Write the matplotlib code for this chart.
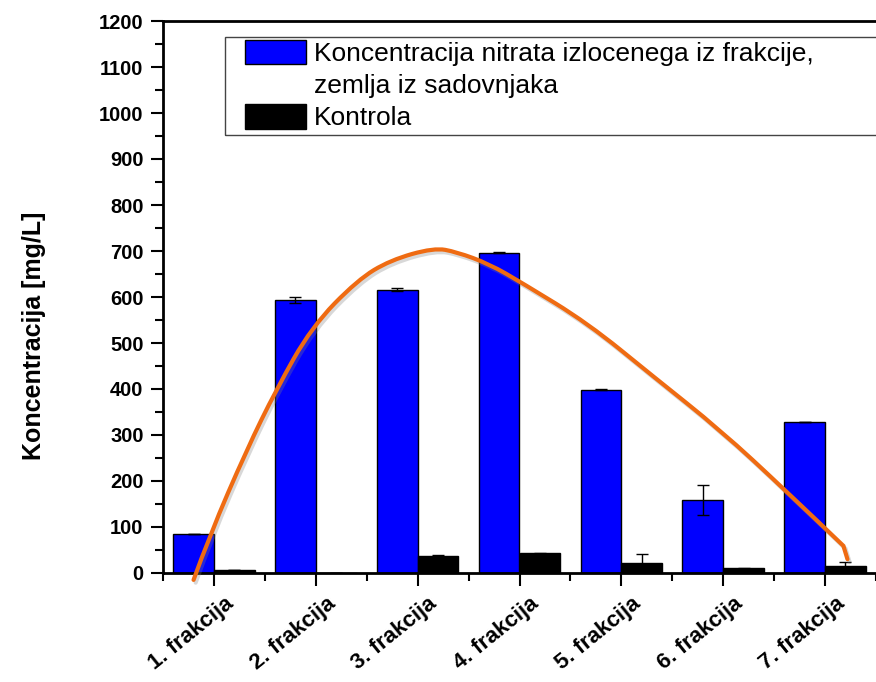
import matplotlib
matplotlib.use("Agg")
import matplotlib.pyplot as plt
import numpy as np
from matplotlib.path import Path
from matplotlib.patches import PathPatch, Patch, Rectangle
from matplotlib.ticker import MultipleLocator
from matplotlib.transforms import ScaledTranslation
import matplotlib.patheffects as pe

plt.rcParams["font.family"] = ["Liberation Sans", "DejaVu Sans"]

# podatki, odčitani s slike
CATEGORIES = ["1. frakcija", "2. frakcija", "3. frakcija", "4. frakcija",
              "5. frakcija", "6. frakcija", "7. frakcija"]
SAMPLE = [85, 593, 616, 696, 398, 159, 328]
SAMPLE_ERR = [0, 7, 3, 1, 1, 32, 0]
CONTROL = [6, 1, 37, 43, 22, 10, 15]
CONTROL_ERR = [0, 0, 2, 1, 20, 1, 9]

LABEL_SAMPLE = "Koncentracija nitrata izlocenega iz frakcije,"
LABEL_SAMPLE_2 = "zemlja iz sadovnjaka"
LABEL_CONTROL = "Kontrola"

# ročno narisana krivulja (x v enotah kategorij, y v mg/L)
TREND_X = [0.80, 0.96, 1.32, 1.61, 1.96, 2.41, 2.73, 3.16, 3.38, 3.70, 4.03,
           4.67, 5.32, 5.97, 6.61, 7.18]
TREND_Y = [-15, 83, 267, 398, 535, 637, 680, 707, 698, 672, 630,
           543, 426, 311, 180, 59]
TREND_END = (7.22, 30)

BLUE = "#0000ff"
ORANGE = "#ef6b12"

fig = plt.figure(figsize=(8.76, 6.82), dpi=100)
ax = fig.add_axes([163 / 876, 109 / 682, 1 - 163 / 876, 552 / 682])

x = np.arange(1, len(CATEGORIES) + 1)
w = 0.4
err_style = dict(ecolor="black", elinewidth=1, capsize=4, capthick=1)
ax.bar(x - w / 2, SAMPLE, w, color=BLUE, edgecolor="black", linewidth=1,
       yerr=SAMPLE_ERR, error_kw=err_style, zorder=2)
ax.bar(x + w / 2, CONTROL, w, color="black", edgecolor="black", linewidth=1,
       yerr=CONTROL_ERR, error_kw=err_style, zorder=2)

# krivulja: kvadratne Bezierjeve krivulje skozi odčitane točke, nato ostanek kot črta
pts = list(zip(TREND_X, TREND_Y))
verts = [pts[0]]
codes = [Path.MOVETO]
for i in range(1, len(pts) - 1):
    mid = ((pts[i][0] + pts[i + 1][0]) / 2, (pts[i][1] + pts[i + 1][1]) / 2)
    if i == len(pts) - 2:
        mid = pts[i + 1]
    verts += [pts[i], mid]
    codes += [Path.CURVE3, Path.CURVE3]
verts.append(TREND_END)
codes.append(Path.LINETO)
trend = PathPatch(Path(verts, codes), fill=False, edgecolor=ORANGE, linewidth=3,
                  capstyle="round", joinstyle="miter", clip_on=False, zorder=4)
trend.set_path_effects([pe.SimpleLineShadow(offset=(1.5, -2), shadow_color="gray", alpha=0.3),
                        pe.Normal()])
ax.add_patch(trend)

ax.set_xlim(0.5, 0.5 + (876 - 163) / 103.3)
ax.set_ylim(0, 1200)
ax.yaxis.set_major_locator(MultipleLocator(100))
ax.yaxis.set_minor_locator(MultipleLocator(50))
ax.set_xticks(x)
ax.set_xticks(np.arange(0.5, 8, 1), minor=True)

ax.tick_params(axis="both", which="major", direction="out", length=9, width=1.5)
ax.tick_params(axis="both", which="minor", direction="out", length=5.5, width=1.5)
ax.tick_params(axis="x", which="major", pad=11)
ax.tick_params(axis="y", which="major", pad=5, labelsize=14.5)
ax.set_xticklabels(CATEGORIES, rotation=39, ha="right", va="center",
                   rotation_mode="anchor", fontsize=16, fontweight="bold")
for lab in ax.get_xticklabels():
    lab.set_transform(lab.get_transform() + ScaledTranslation(0.17, 0, fig.dpi_scale_trans))
for lab in ax.get_yticklabels():
    lab.set_fontweight("bold")

ax.spines["right"].set_visible(False)
for s in ("left", "bottom", "top"):
    ax.spines[s].set_linewidth(2)

ax.set_ylabel("Koncentracija [mg/L]", fontsize=18, fontweight="bold")
ax.yaxis.set_label_coords((46 - 163) / 713, (573 - 336) / 552)

# okvir legende sega čez desni rob slike
fig.patches.append(Rectangle((225 / 876, (682 - 135) / 682), 1, 98 / 682,
                             transform=fig.transFigure, fill=False,
                             edgecolor="#444444", linewidth=1, zorder=5))
handles = [Patch(facecolor=BLUE, edgecolor="black", linewidth=1),
           Patch(facecolor="none", edgecolor="none"),
           Patch(facecolor="black", edgecolor="black", linewidth=1)]
leg = fig.legend(handles, [LABEL_SAMPLE, LABEL_SAMPLE_2, LABEL_CONTROL],
                 loc="upper left", bbox_to_anchor=(245 / 876, 1 - 40 / 682),
                 fontsize=19, handlelength=2.3, handleheight=1.05,
                 handletextpad=0.3, labelspacing=0.22, borderpad=0,
                 borderaxespad=0, frameon=False)

fig.savefig("out.png", dpi=100)
